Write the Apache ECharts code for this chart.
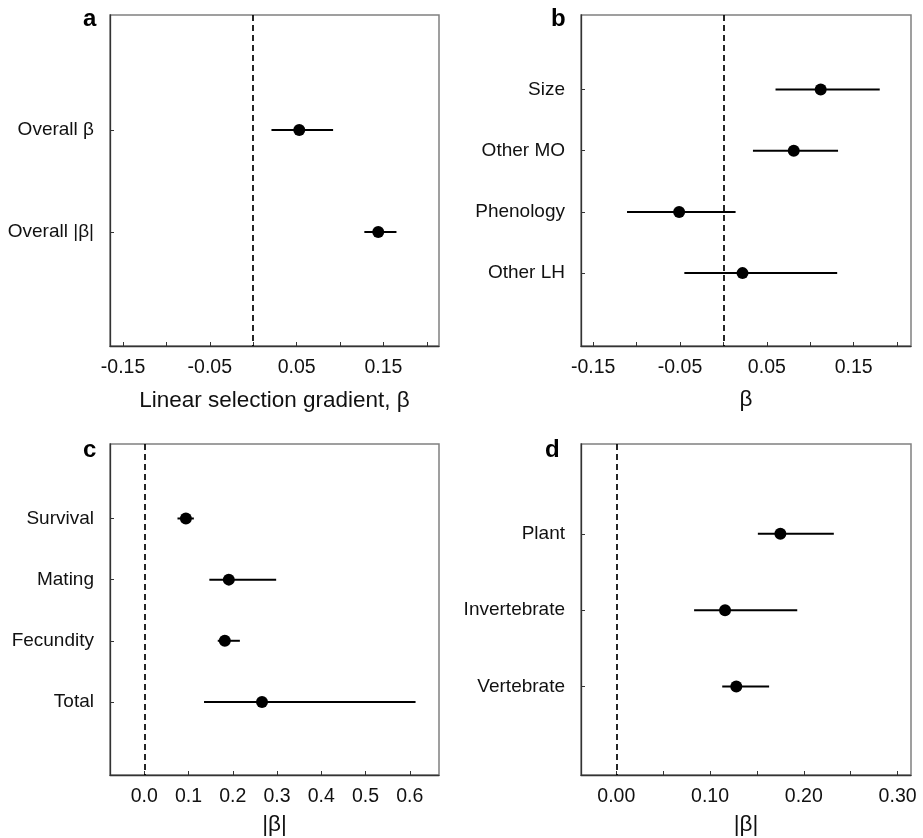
<!DOCTYPE html>
<html>
<head>
<meta charset="utf-8">
<script src="https://cdn.jsdelivr.net/npm/echarts@6/dist/echarts.min.js"></script>
<style>
html,body{margin:0;padding:0;background:#fff;}
#chart{width:923px;height:838px;}
</style>
</head>
<body>
<div id="chart"></div>
<script>
// ---- Data ----
const aCategories = ['Overall β', 'Overall |β|'];
const aEstimate = [0.053, 0.144];
const aLower = [0.021, 0.128];
const aUpper = [0.092, 0.165];

const bCategories = ['Size', 'Other MO', 'Phenology', 'Other LH'];
const bEstimate = [0.112, 0.081, -0.051, 0.022];
const bLower = [0.060, 0.034, -0.111, -0.045];
const bUpper = [0.180, 0.132, 0.014, 0.131];

const cCategories = ['Survival', 'Mating', 'Fecundity', 'Total'];
const cEstimate = [0.094, 0.191, 0.182, 0.266];
const cLower = [0.075, 0.147, 0.166, 0.135];
const cUpper = [0.112, 0.298, 0.216, 0.613];

const dCategories = ['Plant', 'Invertebrate', 'Vertebrate'];
const dEstimate = [0.175, 0.116, 0.128];
const dLower = [0.151, 0.083, 0.113];
const dUpper = [0.232, 0.193, 0.163];

// tick marks and tick labels
const abTicks = [-0.15, -0.10, -0.05, 0, 0.05, 0.10, 0.15, 0.20];
const abLabelValues = [-0.15, -0.05, 0.05, 0.15];
const abLabels = ['-0.15', '-0.05', '0.05', '0.15'];
const cTicks = [0, 0.1, 0.2, 0.3, 0.4, 0.5, 0.6];
const cLabelValues = [0, 0.1, 0.2, 0.3, 0.4, 0.5, 0.6];
const cLabels = ['0.0', '0.1', '0.2', '0.3', '0.4', '0.5', '0.6'];
const dTicks = [0, 0.05, 0.10, 0.15, 0.20, 0.25, 0.30];
const dLabelValues = [0, 0.10, 0.20, 0.30];
const dLabels = ['0.00', '0.10', '0.20', '0.30'];

const panelLetters = ['a', 'b', 'c', 'd'];
const axisTitles = ['Linear selection gradient, β', 'β', '|β|', '|β|'];

// ---- Layout / style ----
const FONT = '"Liberation Sans", Arial, sans-serif';
const TXT = '#111';
const AXIS = '#333';
const BOX = '#808080';

const panels = [
  {cats: aCategories, est: aEstimate, lo: aLower, hi: aUpper, ticks: abTicks, lv: abLabelValues, ll: abLabels,
   xmin: -0.165, xmax: 0.214, ymin: -0.131, ymax: 3.121, grid: {left: 110, top: 15, width: 329, height: 331}, nameGap: 43},
  {cats: bCategories, est: bEstimate, lo: bLower, hi: bUpper, ticks: abTicks, lv: abLabelValues, ll: abLabels,
   xmin: -0.164, xmax: 0.216, ymin: -0.215, ymax: 5.19, grid: {left: 581, top: 15, width: 330, height: 331}, nameGap: 42},
  {cats: cCategories, est: cEstimate, lo: cLower, hi: cUpper, ticks: cTicks, lv: cLabelValues, ll: cLabels,
   xmin: -0.0775, xmax: 0.666, ymin: -0.218, ymax: 5.195, grid: {left: 110, top: 444, width: 329, height: 331}, nameGap: 38},
  {cats: dCategories, est: dEstimate, lo: dLower, hi: dUpper, ticks: dTicks, lv: dLabelValues, ll: dLabels,
   xmin: -0.0376, xmax: 0.3143, ymin: -0.175, ymax: 4.157, grid: {left: 581, top: 444, width: 330, height: 331}, nameGap: 38}
];

const grids = [], xAxes = [], yAxes = [], series = [], graphics = [];
const letterPos = [[83, 7], [551, 7], [83, 438], [545, 438]];

panels.forEach((p, i) => {
  grids.push(Object.assign({show: true, borderColor: BOX, borderWidth: 1.5, backgroundColor: 'transparent', containLabel: false}, p.grid));
  xAxes.push({
    type: 'value', gridIndex: i, min: p.xmin, max: p.xmax, position: 'bottom',
    axisLine: {show: true, onZero: false, lineStyle: {color: AXIS, width: 1.3}},
    splitLine: {show: false},
    axisTick: {show: true, inside: true, length: 4, lineStyle: {color: AXIS, width: 1}, customValues: p.ticks},
    axisLabel: {
      show: true, margin: 12, color: TXT, fontFamily: FONT, fontSize: 19.5,
      customValues: p.lv,
      formatter: (v) => {
        const k = p.lv.findIndex(t => Math.abs(t - v) < 1e-9);
        return k >= 0 ? p.ll[k] : '';
      }
    },
    name: axisTitles[i], nameLocation: 'middle', nameGap: p.nameGap,
    nameTextStyle: {color: TXT, fontFamily: FONT, fontSize: 22.5}
  });
  yAxes.push({
    type: 'value', gridIndex: i, inverse: true, min: p.ymin, max: p.ymax, position: 'left',
    axisLine: {show: true, onZero: false, lineStyle: {color: AXIS, width: 1.3}},
    splitLine: {show: false},
    axisTick: {show: true, inside: true, length: 4, lineStyle: {color: AXIS, width: 1},
      customValues: p.cats.map((c, k) => k + 1)},
    axisLabel: {
      show: true, margin: 16, color: TXT, fontFamily: FONT, fontSize: 19,
      customValues: p.cats.map((c, k) => k + 1),
      formatter: (v) => p.cats[Math.round(v) - 1] || ''
    }
  });
  series.push({
    type: 'custom', xAxisIndex: i, yAxisIndex: i, z: 3, silent: true,
    encode: {x: [0, 1], y: 2},
    data: p.cats.map((c, k) => [p.lo[k], p.hi[k], k + 1]),
    renderItem: (params, api) => {
      const a = api.coord([api.value(0), api.value(2)]);
      const b = api.coord([api.value(1), api.value(2)]);
      return {type: 'line', shape: {x1: a[0], y1: a[1], x2: b[0], y2: b[1]}, style: {stroke: '#000', lineWidth: 2}};
    }
  });
  series.push({
    type: 'scatter', xAxisIndex: i, yAxisIndex: i, z: 4, silent: true,
    symbol: 'circle', symbolSize: 12,
    itemStyle: {color: '#000', opacity: 1},
    data: p.cats.map((c, k) => [p.est[k], k + 1]),
    markLine: {
      silent: true, symbol: 'none', z: 2,
      label: {show: false},
      lineStyle: {color: '#000', type: [6, 4], width: 1.7, opacity: 1},
      data: [{xAxis: 0}]
    }
  });
  graphics.push({
    type: 'text', left: letterPos[i][0], top: letterPos[i][1],
    style: {text: panelLetters[i], fill: '#000', font: 'bold 24px ' + FONT}
  });
});

const chart = echarts.init(document.getElementById('chart'), null, {renderer: 'canvas'});
chart.setOption({
  animation: false,
  backgroundColor: '#fff',
  grid: grids,
  xAxis: xAxes,
  yAxis: yAxes,
  series: series,
  graphic: graphics
});
</script>
</body>
</html>
